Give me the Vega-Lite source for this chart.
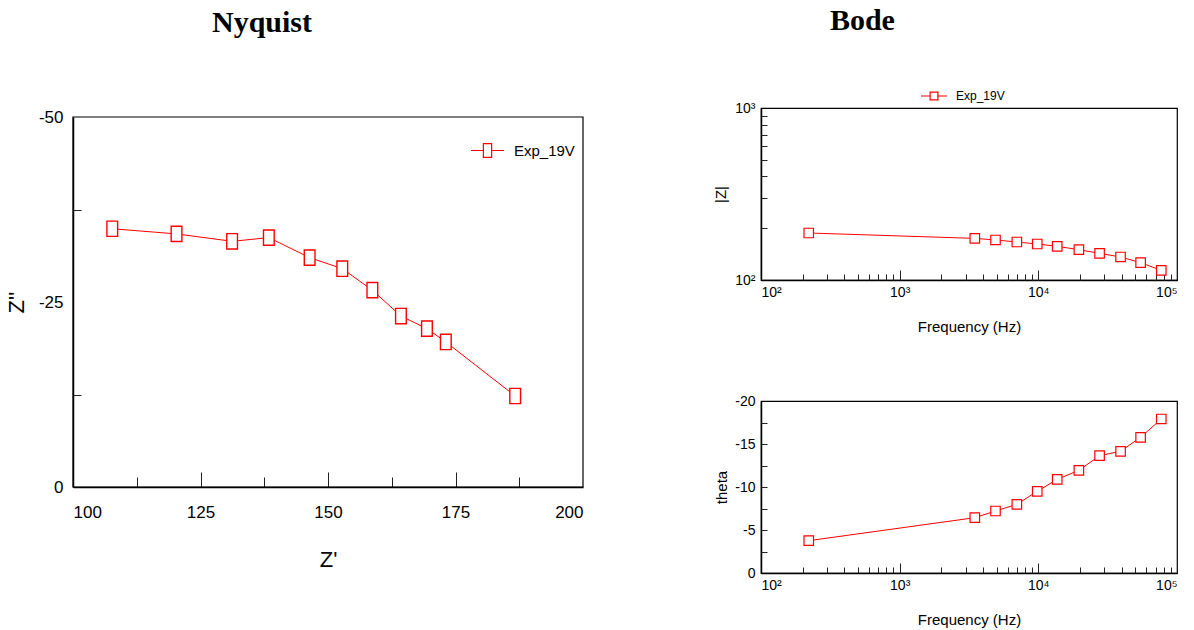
{
  "$schema": "https://vega.github.io/schema/vega-lite/v6.json",
  "background": "white",
  "padding": {"left": 5, "top": 6, "right": 5, "bottom": 5},
  "datasets": {
    "nyq": [
      {"zr": 107.7, "zi": -34.9, "series": "Exp_19V"},
      {"zr": 120.3, "zi": -34.2, "series": "Exp_19V"},
      {"zr": 131.2, "zi": -33.2, "series": "Exp_19V"},
      {"zr": 138.4, "zi": -33.7, "series": "Exp_19V"},
      {"zr": 146.4, "zi": -31.0, "series": "Exp_19V"},
      {"zr": 152.8, "zi": -29.5, "series": "Exp_19V"},
      {"zr": 158.7, "zi": -26.6, "series": "Exp_19V"},
      {"zr": 164.3, "zi": -23.1, "series": "Exp_19V"},
      {"zr": 169.4, "zi": -21.4, "series": "Exp_19V"},
      {"zr": 173.1, "zi": -19.6, "series": "Exp_19V"},
      {"zr": 186.7, "zi": -12.3, "series": "Exp_19V"}
    ],
    "bode": [
      {"freq": 221, "zmod": 187.6, "theta": -3.76, "series": "Exp_19V"},
      {"freq": 3483, "zmod": 174.6, "theta": -6.43, "series": "Exp_19V"},
      {"freq": 4910, "zmod": 170.9, "theta": -7.21, "series": "Exp_19V"},
      {"freq": 7000, "zmod": 166.3, "theta": -7.98, "series": "Exp_19V"},
      {"freq": 9820, "zmod": 161.9, "theta": -9.5, "series": "Exp_19V"},
      {"freq": 13680, "zmod": 157.0, "theta": -10.89, "series": "Exp_19V"},
      {"freq": 19610, "zmod": 150.0, "theta": -11.94, "series": "Exp_19V"},
      {"freq": 27650, "zmod": 142.9, "theta": -13.64, "series": "Exp_19V"},
      {"freq": 39170, "zmod": 136.1, "theta": -14.15, "series": "Exp_19V"},
      {"freq": 54650, "zmod": 126.1, "theta": -15.78, "series": "Exp_19V"},
      {"freq": 77030, "zmod": 113.8, "theta": -17.91, "series": "Exp_19V"}
    ]
  },
  "config": {
    "view": {"stroke": "black", "strokeWidth": 1.2},
    "axis": {"grid": false, "domainColor": "black", "domainWidth": 1.5, "tickColor": "#222", "tickWidth": 1, "labelColor": "black", "titleColor": "black", "labelFont": "Liberation Sans", "titleFont": "Liberation Sans", "titleFontWeight": "normal"},
    "legend": {"padding": 0}
  },
  "resolve": {"scale": {"color": "independent"}, "legend": {"color": "independent"}},
  "hconcat": [
    {
      "title": {"text": "Nyquist", "font": "Liberation Serif", "fontSize": 30, "fontWeight": "bold", "color": "black", "anchor": "middle", "dx": -66, "offset": 70},
      "width": 510,
      "height": 379,
      "view": {"stroke": null},
      "layer": [
        {
          "data": {"values": [{"frame": 1}]},
          "mark": {"type": "rect", "fillOpacity": 0, "stroke": "black", "strokeWidth": 1.2},
          "encoding": {
            "x": {"datum": 100, "type": "quantitative", "axis": null},
            "x2": {"datum": 200},
            "y": {"datum": 0, "type": "quantitative", "axis": null},
            "y2": {"datum": -50}
          }
        },
        {
          "data": {"name": "nyq"},
          "mark": {"type": "line", "color": "#ff0000", "strokeWidth": 1},
          "encoding": {
            "x": {"field": "zr", "type": "quantitative", "scale": {"domain": [100, 200], "nice": false, "zero": false},
              "axis": {"orient": "bottom", "values": [100, 125, 150, 175, 200], "ticks": false, "labelPadding": 17, "labelFontSize": 17, "title": "Z'", "titleFontSize": 22, "titlePadding": 29}},
            "y": {"field": "zi", "type": "quantitative", "scale": {"domain": [0, -50], "range": [379, 9], "nice": false, "zero": false},
              "axis": {"orient": "left", "values": [0, -25, -50], "labelExpr": "datum.value == 0 ? '0' : '-' + abs(datum.value)", "ticks": false, "labelPadding": 10, "labelFontSize": 17, "title": "Z''", "titleFontSize": 22, "titlePadding": 10}},
            "color": {"field": "series", "type": "nominal", "scale": {"range": ["#ff0000"]},
              "legend": {"orient": "none", "legendX": 397, "legendY": 25, "title": null, "symbolType": "M-1,0L-0.25,0M0.25,0L1,0M-0.25,-0.42L0.25,-0.42L0.25,0.42L-0.25,0.42Z", "symbolSize": 1089, "symbolStrokeWidth": 1.2, "symbolFillColor": "white", "labelFont": "Liberation Sans", "labelFontSize": 15, "labelColor": "black", "labelOffset": 9}}
          }
        },
        {
          "data": {"name": "nyq"},
          "mark": {"type": "point", "shape": "M-0.7,-1L0.7,-1L0.7,1L-0.7,1Z", "size": 234, "filled": true, "fill": "white", "stroke": "#ff0000", "strokeWidth": 1.4, "opacity": 1},
          "encoding": {
            "x": {"field": "zr", "type": "quantitative", "axis": {"orient": "bottom", "values": [125, 150, 175], "labels": false, "domain": false, "title": null, "tickSize": -15}},
            "y": {"field": "zi", "type": "quantitative", "axis": {"orient": "left", "values": [-37.5, -12.5], "labels": false, "domain": false, "title": null, "tickSize": -8}}
          }
        },
        {
          "data": {"name": "nyq"},
          "mark": {"type": "point", "opacity": 0},
          "encoding": {
            "x": {"field": "zr", "type": "quantitative", "axis": {"orient": "bottom", "values": [112.5, 137.5, 162.5, 187.5], "labels": false, "domain": false, "title": null, "tickSize": -10}},
            "y": {"field": "zi", "type": "quantitative", "axis": null}
          }
        }
      ],
      "resolve": {"axis": {"x": "independent", "y": "independent"}}
    },
    {
      "title": {"text": "Bode", "font": "Liberation Serif", "fontSize": 30, "fontWeight": "bold", "color": "black", "anchor": "middle", "dx": -83, "offset": 46},
      "spacing": 58,
      "vconcat": [
        {
          "width": 416,
          "height": 172,
          "data": {"name": "bode"},
          "layer": [
            {
              "mark": {"type": "line", "color": "#ff0000", "strokeWidth": 1},
              "encoding": {
                "x": {"field": "freq", "type": "quantitative", "scale": {"type": "log", "domain": [100, 100000], "nice": false},
                  "axis": {"orient": "bottom", "values": [100, 1000, 10000, 100000], "labelExpr": "datum.value == 100 ? '10²' : datum.value == 1000 ? '10³' : datum.value == 10000 ? '10⁴' : '10⁵'", "ticks": false, "labelPadding": 5, "labelFontSize": 14, "title": "Frequency (Hz)", "titleFontSize": 15, "titlePadding": 20}},
                "y": {"field": "zmod", "type": "quantitative", "scale": {"type": "log", "domain": [100, 1000], "nice": false},
                  "axis": {"orient": "left", "values": [100, 1000], "labelExpr": "datum.value == 100 ? '10²' : '10³'", "ticks": false, "labelPadding": 6, "labelFontSize": 14, "title": "|Z|", "titleFontSize": 15, "titlePadding": 6}},
                "color": {"field": "series", "type": "nominal", "scale": {"range": ["#ff0000"]},
                  "legend": {"orient": "none", "legendX": 159, "legendY": -26, "title": null, "symbolType": "M-1,0L-0.3,0M0.3,0L1,0M-0.3,-0.3L0.3,-0.3L0.3,0.3L-0.3,0.3Z", "symbolSize": 676, "symbolStrokeWidth": 1.2, "symbolFillColor": "white", "labelFont": "Liberation Sans", "labelFontSize": 12, "labelColor": "black", "labelOffset": 8}}
              }
            },
            {
              "mark": {"type": "point", "shape": "square", "size": 90, "filled": true, "fill": "white", "stroke": "#ff0000", "strokeWidth": 1.2, "opacity": 1},
              "encoding": {
                "x": {"field": "freq", "type": "quantitative", "axis": {"orient": "bottom", "values": [1000, 10000], "labels": false, "domain": false, "title": null, "tickSize": -10}},
                "y": {"field": "zmod", "type": "quantitative", "axis": {"orient": "left", "values": [200, 300, 400, 500, 600, 700, 800, 900], "labels": false, "domain": false, "title": null, "tickSize": -6}}
              }
            },
            {
              "mark": {"type": "point", "opacity": 0},
              "encoding": {
                "x": {"field": "freq", "type": "quantitative", "axis": {"orient": "bottom", "values": [200, 300, 400, 500, 600, 700, 800, 900, 2000, 3000, 4000, 5000, 6000, 7000, 8000, 9000, 20000, 30000, 40000, 50000, 60000, 70000, 80000, 90000], "labels": false, "domain": false, "title": null, "tickSize": -6}},
                "y": {"field": "zmod", "type": "quantitative", "axis": null}
              }
            }
          ],
          "resolve": {"axis": {"x": "independent", "y": "independent"}}
        },
        {
          "width": 416,
          "height": 172,
          "data": {"name": "bode"},
          "layer": [
            {
              "mark": {"type": "line", "color": "#ff0000", "strokeWidth": 1},
              "encoding": {
                "x": {"field": "freq", "type": "quantitative", "scale": {"type": "log", "domain": [100, 100000], "nice": false},
                  "axis": {"orient": "bottom", "values": [100, 1000, 10000, 100000], "labelExpr": "datum.value == 100 ? '10²' : datum.value == 1000 ? '10³' : datum.value == 10000 ? '10⁴' : '10⁵'", "ticks": false, "labelPadding": 5, "labelFontSize": 14, "title": "Frequency (Hz)", "titleFontSize": 15, "titlePadding": 20}},
                "y": {"field": "theta", "type": "quantitative", "scale": {"domain": [0, -20], "nice": false, "zero": false},
                  "axis": {"orient": "left", "values": [0, -5, -10, -15, -20], "labelExpr": "datum.value == 0 ? '0' : '-' + abs(datum.value)", "ticks": false, "labelPadding": 6, "labelFontSize": 14, "title": "theta", "titleFontSize": 15, "titlePadding": 5}}
              }
            },
            {
              "mark": {"type": "point", "shape": "square", "size": 90, "filled": true, "fill": "white", "stroke": "#ff0000", "strokeWidth": 1.2, "opacity": 1},
              "encoding": {
                "x": {"field": "freq", "type": "quantitative", "axis": {"orient": "bottom", "values": [1000, 10000], "labels": false, "domain": false, "title": null, "tickSize": -10}},
                "y": {"field": "theta", "type": "quantitative", "axis": {"orient": "left", "values": [-2.5, -5, -7.5, -10, -12.5, -15, -17.5], "labels": false, "domain": false, "title": null, "tickSize": -6}}
              }
            },
            {
              "mark": {"type": "point", "opacity": 0},
              "encoding": {
                "x": {"field": "freq", "type": "quantitative", "axis": {"orient": "bottom", "values": [200, 300, 400, 500, 600, 700, 800, 900, 2000, 3000, 4000, 5000, 6000, 7000, 8000, 9000, 20000, 30000, 40000, 50000, 60000, 70000, 80000, 90000], "labels": false, "domain": false, "title": null, "tickSize": -6}},
                "y": {"field": "theta", "type": "quantitative", "axis": null}
              }
            }
          ],
          "resolve": {"axis": {"x": "independent", "y": "independent"}}
        }
      ]
    }
  ],
  "spacing": 129
}
